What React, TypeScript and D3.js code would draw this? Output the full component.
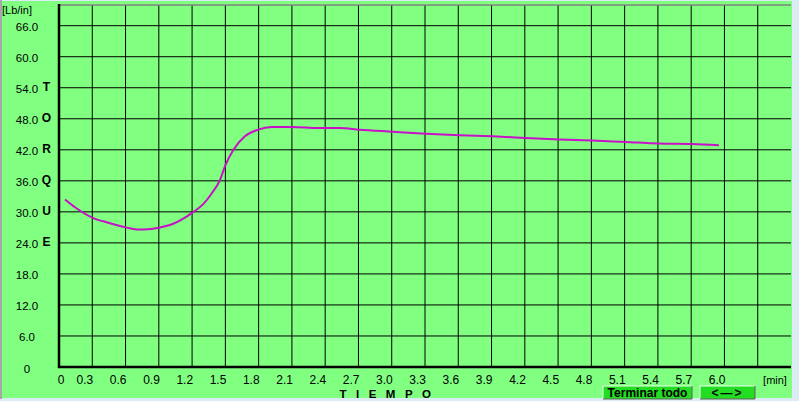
import React from "react";
import * as d3 from "d3";

const timeMin = [0.054, 0.144, 0.3, 0.444, 0.6, 0.7, 0.835, 0.955, 1.03, 1.105, 1.2, 1.3, 1.375, 1.45, 1.5, 1.57, 1.676, 1.795, 1.916, 2.1, 2.34, 2.53, 2.71, 3.01, 3.31, 3.61, 3.91, 4.21, 4.51, 4.81, 5.11, 5.41, 5.71, 5.95];
const torque = [32.4, 30.9, 28.9, 27.9, 27.0, 26.6, 26.7, 27.2, 27.7, 28.5, 29.8, 31.5, 33.5, 36.1, 39.0, 41.9, 44.6, 45.9, 46.4, 46.4, 46.2, 46.2, 45.9, 45.5, 45.1, 44.8, 44.6, 44.3, 44.0, 43.8, 43.5, 43.2, 43.1, 42.9];

const yTicks = [0, 6, 12, 18, 24, 30, 36, 42, 48, 54, 60, 66];
const yTickLabels = ["0", "6.0", "12.0", "18.0", "24.0", "30.0", "36.0", "42.0", "48.0", "54.0", "60.0", "66.0"];
const xTicks = [0, 0.3, 0.6, 0.9, 1.2, 1.5, 1.8, 2.1, 2.4, 2.7, 3.0, 3.3, 3.6, 3.9, 4.2, 4.5, 4.8, 5.1, 5.4, 5.7, 6.0];
const xGrid = [0.3, 0.6, 0.9, 1.2, 1.5, 1.8, 2.1, 2.4, 2.7, 3.0, 3.3, 3.6, 3.9, 4.2, 4.5, 4.8, 5.1, 5.4, 5.7, 6.0, 6.3];
const sideLetters = ["T", "O", "R", "Q", "U", "E"];
const sideLetterValues = [54, 48, 42, 36, 30, 24];

const W = 799;
const H = 401;
const left = 59;
const right = 791;
const top = 5;
const bottom = 367;
const font = "'Liberation Sans', Arial, sans-serif";

export default function App() {
  const x = d3.scaleLinear().domain([0, 6.6]).range([left, right]);
  const y = d3.scaleLinear().domain([0, 70]).range([bottom, top]);
  const pts = timeMin.map((t, i) => [t, torque[i]] as [number, number]);
  const line = d3
    .line<[number, number]>()
    .x((d) => x(d[0]))
    .y((d) => y(d[1]))
    .curve(d3.curveMonotoneX);

  return (
    <svg
      width={W}
      height={H}
      style={{ position: "absolute", left: 0, top: 0 }}
      fontFamily={font}
    >
      <rect x={0} y={0} width={W} height={H} fill="#dcecf4" />
      <rect x={2} y={1} width={790} height={397} fill="#80ff80" />
      <rect x={0} y={0} width={2} height={399} fill="#a8a8a8" />

      {yTicks.filter((v) => v > 0).map((v) => (
        <line key={"h" + v} x1={left} x2={right} y1={y(v)} y2={y(v)} stroke="#000" strokeWidth={1} />
      ))}
      {xGrid.map((v) => (
        <line key={"v" + v} x1={x(v)} x2={x(v)} y1={top} y2={bottom} stroke="#000" strokeWidth={1} />
      ))}
      <line x1={left} x2={right} y1={top} y2={top} stroke="#808080" strokeWidth={1.5} />
      <line x1={left} x2={left} y1={top - 1} y2={bottom + 1} stroke="#000" strokeWidth={2.5} />
      <line x1={left - 1} x2={right} y1={bottom} y2={bottom} stroke="#000" strokeWidth={2.5} />

      <path d={line(pts) || ""} fill="none" stroke="#c810c8" strokeWidth={2} />

      {yTicks.map((v, i) => (
        <text key={"yl" + v} x={27} y={y(v) + 1.5} dy="0.35em" textAnchor="middle" fontSize={11.5} fill="#000">
          {yTickLabels[i]}
        </text>
      ))}
      {sideLetters.map((c, i) => (
        <text key={"sl" + i} x={46.5} y={y(sideLetterValues[i]) - 1} dy="0.35em" textAnchor="middle" fontSize={12} fontWeight="bold" fill="#000">
          {c}
        </text>
      ))}
      <text x={2} y={10} dy="0.35em" fontSize={11} fill="#000">[Lb/in]</text>

      {xTicks.map((v) => (
        <text
          key={"xl" + v}
          x={v === 0 ? x(v) + 2 : x(v) + 1}
          y={380}
          dy="0.35em"
          textAnchor={v === 0 ? "middle" : "end"}
          fontSize={12}
          fill="#000"
        >
          {v === 0 ? "0" : v.toFixed(1)}
        </text>
      ))}
      <text x={775} y={380} dy="0.35em" textAnchor="middle" fontSize={11} fill="#000">[min]</text>
      <text x={390} y={394} dy="0.35em" textAnchor="middle" fontSize={11.5} fontWeight="bold" letterSpacing={9.5} fill="#000">TIEMPO</text>

      <g>
        <rect x={603} y={386} width={89} height={13} fill="#22dd22" />
        <polyline points="603,399 603,386 692,386" fill="none" stroke="#f0fff0" strokeWidth={1} />
        <polyline points="603,399 692,399 692,386" fill="none" stroke="#606060" strokeWidth={1} />
        <text x={647.5} y={393} dy="0.35em" textAnchor="middle" fontSize={12} fontWeight="bold" fill="#000">Terminar todo</text>
      </g>
      <g>
        <rect x={700} y={386} width={55} height={13} fill="#22dd22" />
        <polyline points="700,399 700,386 755,386" fill="none" stroke="#f0fff0" strokeWidth={1} />
        <polyline points="700,399 755,399 755,386" fill="none" stroke="#606060" strokeWidth={1} />
        <text x={727.5} y={393} dy="0.35em" textAnchor="middle" fontSize={12} fontWeight="bold" letterSpacing={2} fill="#000">{"<\u2014>"}</text>
      </g>
    </svg>
  );
}
